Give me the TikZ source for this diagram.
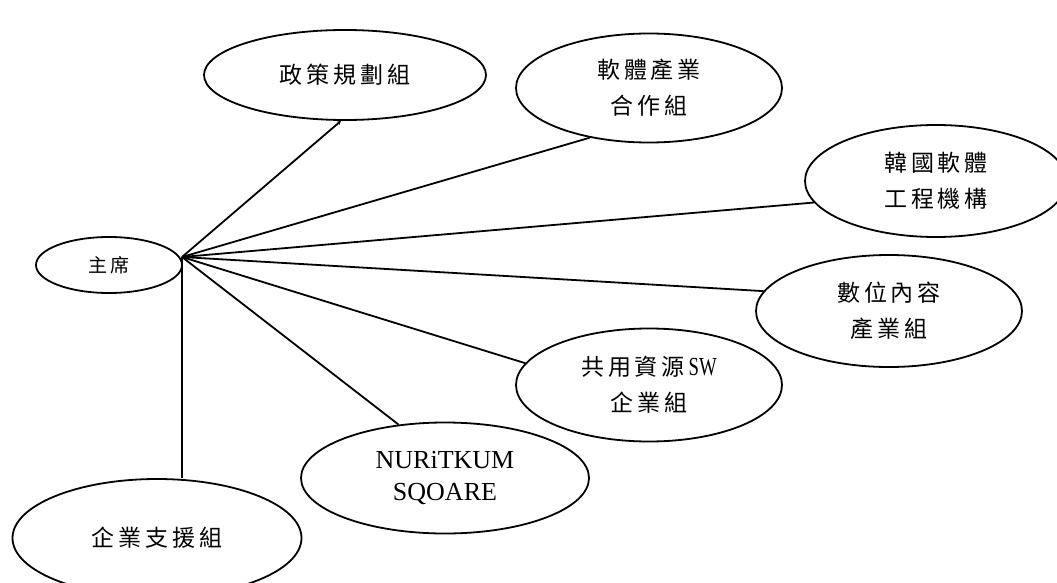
\documentclass[tikz,border=0pt]{standalone}
\usepackage{fontspec}
\setmainfont{Liberation Serif}
\newfontfamily\cjk{Noto Sans CJK TC}[LetterSpace=17]
\newfontfamily\lat{Liberation Serif}
\usetikzlibrary{shapes.geometric,arrows.meta}
\tikzset{
  grp/.style={draw, ellipse, line width=1.8pt, inner sep=0pt, align=center,
    font=\cjk\fontsize{23}{36}\selectfont},
  link/.style={line width=1.8pt}
}
\begin{document}
\begin{tikzpicture}[x=1pt,y=-1pt]
\useasboundingbox (0,0) rectangle (1057,583);

% chairman and the groups around it
\node[grp, minimum width=146pt, minimum height=56pt,
      font=\cjk\fontsize{19}{22}\selectfont] (chair) at (109,265) {主席};
\node[grp, minimum width=282pt, minimum height=90pt] (policy) at (345,75) {政策規劃組};
\node[grp, minimum width=266pt, minimum height=109pt] (swind) at (649,88) {軟體產業\\合作組};
\node[grp, minimum width=262pt, minimum height=112pt] (kose) at (936,181) {韓國軟體\\工程機構};
\node[grp, minimum width=266pt, minimum height=112pt] (digital) at (889,311) {數位內容\\產業組};
\node[grp, minimum width=266pt, minimum height=113pt] (shared) at (649,385) {共用資源\,{\lat\scalebox{0.72}[1]{\fontsize{26}{26}\selectfont SW}}\\企業組};
\node[grp, minimum width=288pt, minimum height=111pt,
      font=\lat\fontsize{26}{32}\selectfont] (nuri) at (445,478) {NURiTKUM\\SQOARE};
\node[grp, minimum width=289pt, minimum height=118pt] (support) at (157,538) {企業支援組};

% hub on the chairman's right side
\coordinate (hub) at (182,257);

% connectors
\draw[link, -{Stealth[length=4pt,width=4pt]}] (hub) -- (policy.265);
\draw[link] (hub) -- (swind.220);
\draw[link] (hub) -- (kose.190);
\draw[link] (hub) -- (digital.171);
\draw[link] (hub) -- (shared.170);
\draw[link] (hub) -- (nuri.131);
\draw[link] (hub) -- (support.north -| hub);
\end{tikzpicture}
\end{document}
